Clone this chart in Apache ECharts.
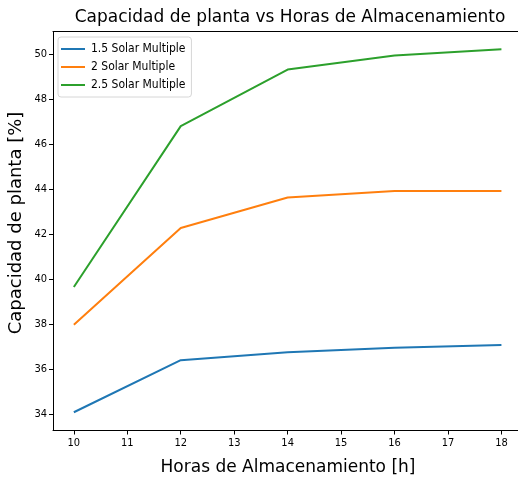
<!DOCTYPE html>
<html>
<head>
<meta charset="utf-8">
<script src="https://cdn.jsdelivr.net/npm/echarts@6/dist/echarts.min.js"></script>
<style>
  html, body { margin: 0; padding: 0; background: #fff; }
  #chart { width: 518px; height: 479px; }
</style>
</head>
<body>
<div id="chart"></div>
<script>
// Storage hours on the x axis
const hours = [10, 12, 14, 16, 18];
// Plant capacity factor [%] per solar multiple
const sm15 = [34.09, 36.4, 36.75, 36.95, 37.08];
const sm20 = [37.97, 42.27, 43.62, 43.91, 43.91];
const sm25 = [39.65, 46.79, 49.3, 49.92, 50.2];
const seriesNames = ['1.5 Solar Multiple', '2 Solar Multiple', '2.5 Solar Multiple'];
const colors = ['#1f77b4', '#ff7f0e', '#2ca02c'];
const xTicks = [10, 11, 12, 13, 14, 15, 16, 17, 18];
const yTicks = [34, 36, 38, 40, 42, 44, 46, 48, 50];

const tickFont = 'DejaVu Sans Condensed, DejaVu Sans, sans-serif';
const pair = (xs, ys) => xs.map((x, i) => [x, ys[i]]);
const X_MIN = 9.61, X_MAX = 18.31;

const chart = echarts.init(document.getElementById('chart'), null, { renderer: 'canvas' });
chart.setOption({
  animation: false,
  backgroundColor: '#fff',
  title: {
    text: 'Capacidad de planta vs Horas de Almacenamiento',
    left: 285, textAlign: 'center', top: 4,
    textStyle: { fontFamily: 'DejaVu Sans', fontSize: 17, fontWeight: 'normal', color: '#000' }
  },
  legend: {
    orient: 'vertical', left: 58, top: 37,
    padding: [6, 6, 6, 3], itemGap: 6,
    itemWidth: 24, itemHeight: 12,
    borderColor: '#d6d6d6', borderWidth: 1, borderRadius: 3,
    backgroundColor: 'rgba(255,255,255,0.8)',
    icon: 'path://M0,5 L24,5 L24,7 L0,7 Z',
    textStyle: { fontFamily: tickFont, fontSize: 12, color: '#000', padding: [0, 0, 0, 1] },
    data: seriesNames
  },
  grid: {
    left: 53, right: 0, top: 31.5, bottom: 48.5,
    outerBoundsMode: 'none',
    containLabel: false,
    show: false
  },
  xAxis: [{
    type: 'value', min: X_MIN, max: X_MAX,
    name: 'Horas de Almacenamiento [h]', nameLocation: 'middle', nameGap: 29,
    nameTextStyle: { fontFamily: 'DejaVu Sans', fontSize: 17, color: '#000', padding: [0, 0, 0, 5] },
    axisLine: { show: true, lineStyle: { color: '#000', width: 1 } },
    axisTick: { show: true, length: 4, customValues: xTicks, lineStyle: { color: '#000' } },
    axisLabel: { customValues: xTicks, fontFamily: tickFont, fontSize: 11, color: '#000', margin: 7 },
    splitLine: { show: false }
  }, {
    // top frame line
    type: 'value', position: 'top', min: X_MIN, max: X_MAX,
    axisLine: { show: true, lineStyle: { color: '#000', width: 1 } },
    axisTick: { show: false }, axisLabel: { show: false }, splitLine: { show: false }
  }],
  yAxis: {
    type: 'value', min: 33.28, max: 50.99,
    name: 'Capacidad de planta [%]', nameLocation: 'middle', nameGap: 28,
    nameMoveOverlap: false,
    nameTextStyle: { fontFamily: 'DejaVu Sans', fontSize: 18, color: '#000', padding: [0, 0, 0, 16] },
    axisLine: { show: true, lineStyle: { color: '#000', width: 1 } },
    axisTick: { show: true, length: 4, customValues: yTicks, lineStyle: { color: '#000' } },
    axisLabel: { customValues: yTicks, fontFamily: tickFont, fontSize: 11, color: '#000', margin: 6 },
    splitLine: { show: false }
  },
  series: [sm15, sm20, sm25].map((vals, i) => ({
    name: seriesNames[i],
    type: 'line',
    data: pair(hours, vals),
    showSymbol: false,
    symbol: 'none',
    color: colors[i],
    lineStyle: { width: 2, color: colors[i] }
  }))
});
</script>
</body>
</html>
